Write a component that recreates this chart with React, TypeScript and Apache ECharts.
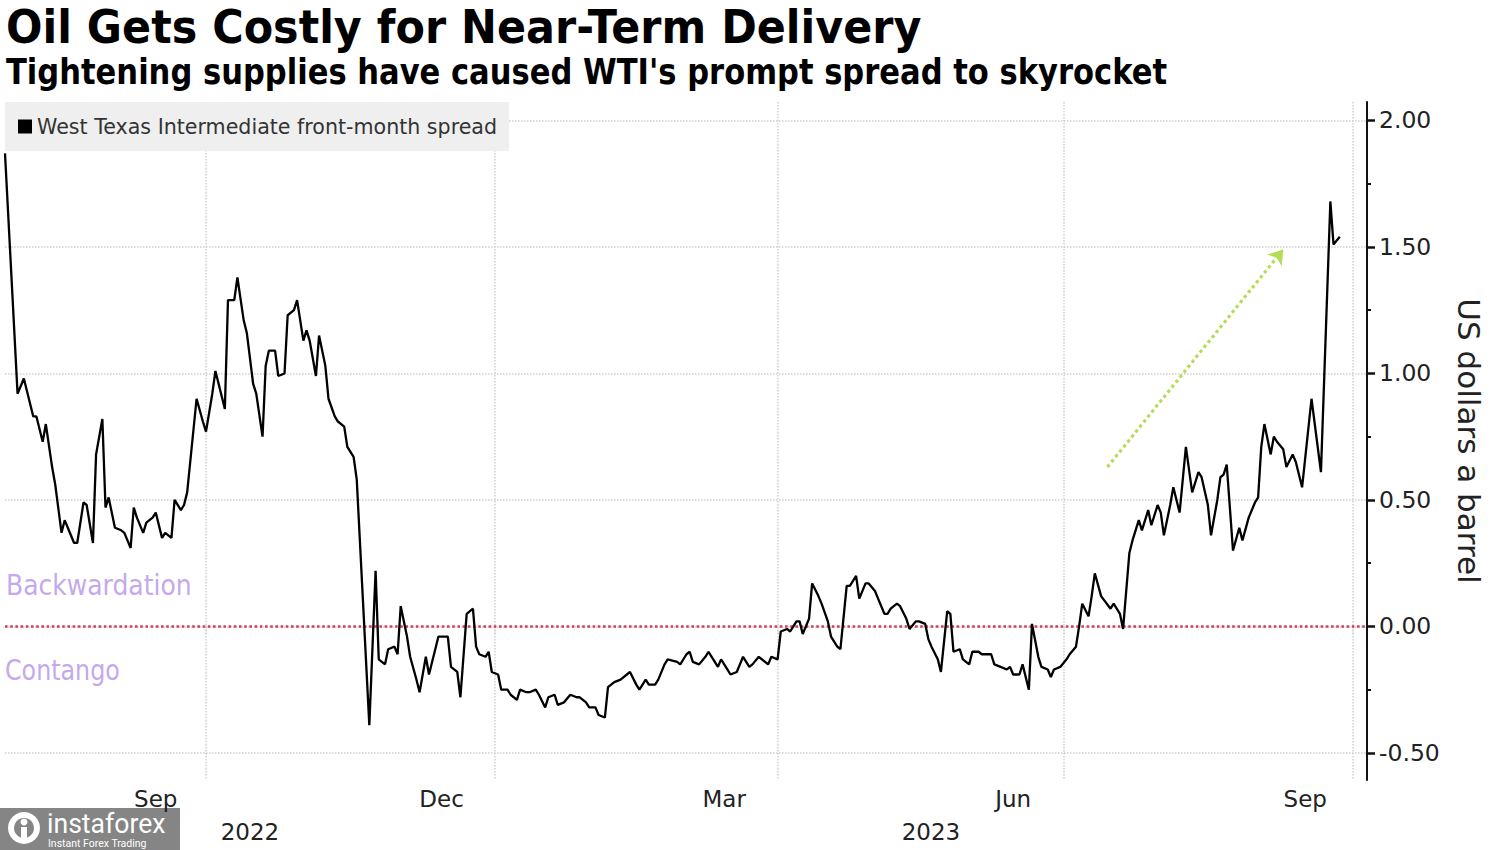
import React, { useEffect, useRef } from "react";
import * as echarts from "echarts";

const SERIES_NAME = "West Texas Intermediate front-month spread";
const TITLE = "Oil Gets Costly for Near-Term Delivery";
const SUBTITLE = "Tightening supplies have caused WTI's prompt spread to skyrocket";

const dates: string[] = [
  // Jul/Aug 2022
  "2022-07-29","2022-08-02","2022-08-04","2022-08-07","2022-08-08","2022-08-10","2022-08-11","2022-08-13","2022-08-14","2022-08-16","2022-08-17","2022-08-18","2022-08-20","2022-08-21","2022-08-23","2022-08-24","2022-08-26","2022-08-27","2022-08-29","2022-08-30","2022-08-31",
  // Sep 2022
  "2022-09-02","2022-09-04","2022-09-05","2022-09-07","2022-09-08","2022-09-09","2022-09-11","2022-09-12","2022-09-14","2022-09-15","2022-09-17","2022-09-18","2022-09-20","2022-09-21","2022-09-23","2022-09-24","2022-09-25","2022-09-28","2022-09-30",
  // Oct 2022
  "2022-10-01","2022-10-03","2022-10-04","2022-10-07","2022-10-08","2022-10-10","2022-10-11","2022-10-13","2022-10-14","2022-10-16","2022-10-17","2022-10-19","2022-10-20","2022-10-21","2022-10-23","2022-10-24","2022-10-26","2022-10-27","2022-10-29","2022-10-30",
  // Nov 2022
  "2022-11-01","2022-11-02","2022-11-03","2022-11-05","2022-11-06","2022-11-08","2022-11-09","2022-11-11","2022-11-12","2022-11-14","2022-11-15","2022-11-17","2022-11-18","2022-11-22","2022-11-24","2022-11-25","2022-11-27","2022-11-28","2022-11-30",
  // Dec 2022
  "2022-12-01","2022-12-02","2022-12-04","2022-12-05","2022-12-07","2022-12-08","2022-12-10","2022-12-11","2022-12-13","2022-12-14","2022-12-17","2022-12-18","2022-12-20","2022-12-21","2022-12-23","2022-12-25","2022-12-26","2022-12-27","2022-12-29","2022-12-30","2022-12-31",
  // Jan 2023
  "2023-01-02","2023-01-03","2023-01-05","2023-01-06","2023-01-08","2023-01-09","2023-01-11","2023-01-12","2023-01-14","2023-01-15","2023-01-17","2023-01-18","2023-01-20","2023-01-21","2023-01-23","2023-01-25","2023-01-27","2023-01-28","2023-01-30","2023-01-31",
  // Feb 2023
  "2023-02-02","2023-02-03","2023-02-05","2023-02-06","2023-02-08","2023-02-10","2023-02-12","2023-02-13","2023-02-15","2023-02-16","2023-02-18","2023-02-19","2023-02-21","2023-02-22","2023-02-24","2023-02-25","2023-02-28",
  // Mar 2023
  "2023-03-01","2023-03-03","2023-03-04","2023-03-05","2023-03-07","2023-03-09","2023-03-10","2023-03-11","2023-03-13","2023-03-14","2023-03-16","2023-03-17","2023-03-19","2023-03-20","2023-03-21","2023-03-23","2023-03-24","2023-03-26","2023-03-28","2023-03-29","2023-03-30",
  // Apr 2023
  "2023-04-01","2023-04-02","2023-04-04","2023-04-05","2023-04-07","2023-04-08","2023-04-09","2023-04-11","2023-04-12","2023-04-14","2023-04-15","2023-04-17","2023-04-18","2023-04-20","2023-04-21","2023-04-23","2023-04-24","2023-04-26","2023-04-27","2023-04-29","2023-04-30",
  // May 2023
  "2023-05-02","2023-05-03","2023-05-05","2023-05-06","2023-05-07","2023-05-09","2023-05-10","2023-05-12","2023-05-13","2023-05-15","2023-05-16","2023-05-18","2023-05-19","2023-05-20","2023-05-22","2023-05-23","2023-05-25","2023-05-26","2023-05-27","2023-05-29","2023-05-30",
  // Jun 2023
  "2023-06-01","2023-06-02","2023-06-04","2023-06-05","2023-06-08","2023-06-09","2023-06-11","2023-06-13","2023-06-14","2023-06-15","2023-06-17","2023-06-18","2023-06-20","2023-06-21","2023-06-23","2023-06-24","2023-06-26","2023-06-27","2023-06-28","2023-06-30",
  // Jul 2023
  "2023-07-02","2023-07-03","2023-07-05","2023-07-06","2023-07-07","2023-07-09","2023-07-10","2023-07-11","2023-07-13","2023-07-16","2023-07-17","2023-07-19","2023-07-20","2023-07-22","2023-07-23","2023-07-25","2023-07-26","2023-07-28","2023-07-29","2023-07-31",
  // Aug 2023
  "2023-08-01","2023-08-02","2023-08-04","2023-08-05","2023-08-07","2023-08-09","2023-08-11","2023-08-13","2023-08-14","2023-08-16","2023-08-17","2023-08-19","2023-08-20","2023-08-21","2023-08-22","2023-08-24","2023-08-26","2023-08-27","2023-08-29","2023-08-31",
  // Sep 2023
  "2023-09-01","2023-09-02","2023-09-03","2023-09-05","2023-09-06","2023-09-07","2023-09-09","2023-09-10","2023-09-12","2023-09-13","2023-09-15","2023-09-18","2023-09-21","2023-09-24","2023-09-25","2023-09-27",
];

const spread: number[] = [
  // Jul/Aug 2022
  1.87,0.92,0.98,0.83,0.83,0.73,0.80,0.63,0.56,0.37,0.42,0.39,0.33,0.33,0.49,0.48,0.33,0.68,0.82,0.47,0.51,
  // Sep 2022
  0.39,0.38,0.37,0.31,0.47,0.43,0.37,0.41,0.43,0.45,0.35,0.37,0.35,0.50,0.46,0.48,0.53,0.90,0.81,
  // Oct 2022
  0.77,0.92,1.01,0.86,1.29,1.29,1.38,1.21,1.16,0.96,0.92,0.75,1.03,1.09,1.09,0.99,1.00,1.23,1.25,1.29,
  // Nov 2022
  1.13,1.17,1.13,0.99,1.15,1.03,0.90,0.83,0.81,0.79,0.71,0.67,0.58,-0.39,0.22,-0.13,-0.15,-0.09,-0.08,
  // Dec 2022
  -0.11,0.08,-0.04,-0.12,-0.21,-0.26,-0.12,-0.19,-0.09,-0.04,-0.04,-0.16,-0.18,-0.28,0.05,0.07,-0.08,-0.11,-0.12,-0.10,-0.18,
  // Jan 2023
  -0.19,-0.25,-0.25,-0.27,-0.29,-0.25,-0.26,-0.26,-0.25,-0.27,-0.32,-0.28,-0.27,-0.31,-0.30,-0.27,-0.28,-0.28,-0.30,-0.32,
  // Feb 2023
  -0.32,-0.35,-0.36,-0.24,-0.22,-0.21,-0.19,-0.18,-0.23,-0.25,-0.21,-0.23,-0.23,-0.21,-0.15,-0.13,-0.14,
  // Mar 2023
  -0.15,-0.11,-0.10,-0.14,-0.15,-0.12,-0.10,-0.12,-0.16,-0.13,-0.17,-0.19,-0.18,-0.15,-0.12,-0.16,-0.15,-0.12,-0.14,-0.15,-0.12,
  // Apr 2023
  -0.13,-0.02,-0.01,-0.02,0.02,0.02,-0.03,0.03,0.17,0.12,0.09,0.02,-0.04,-0.08,-0.09,0.16,0.16,0.20,0.11,0.17,0.17,
  // May 2023
  0.14,0.11,0.05,0.05,0.07,0.09,0.08,0.03,-0.01,0.02,0.02,0.01,-0.05,-0.08,-0.13,-0.18,0.06,0.05,-0.10,-0.09,-0.13,
  // Jun 2023
  -0.15,-0.10,-0.10,-0.11,-0.11,-0.15,-0.16,-0.17,-0.16,-0.19,-0.19,-0.15,-0.25,0.01,-0.12,-0.16,-0.17,-0.20,-0.17,-0.16,
  // Jul 2023
  -0.13,-0.11,-0.08,0.00,0.09,0.04,0.12,0.21,0.12,0.07,0.09,0.05,-0.01,0.29,0.34,0.42,0.38,0.46,0.40,0.48,
  // Aug 2023
  0.45,0.36,0.48,0.55,0.45,0.71,0.53,0.61,0.59,0.48,0.36,0.50,0.59,0.60,0.64,0.30,0.39,0.34,0.43,0.49,
  // Sep 2023
  0.51,0.71,0.80,0.68,0.75,0.73,0.70,0.63,0.68,0.65,0.55,0.90,0.61,1.68,1.51,1.54,
];

// axis layout values
const X_MIN = "2022-07-29";
const X_MAX = "2023-10-05T16:00";
const Y_MIN = -0.607;
const Y_MAX = 2.073;
const yMajorTicks = [-0.5, 0, 0.5, 1, 1.5, 2];
const yMinorTicks = [-0.25, 0.25, 0.75, 1.25, 1.75];
const quarterStarts = ["2022-10-01", "2023-01-01", "2023-04-01", "2023-07-01", "2023-10-01"];
const monthLabelDates = ["2022-09-15", "2022-12-15", "2023-03-15", "2023-06-15", "2023-09-16"];
const yearStarts = ["2023-01-01"];
const monthNames = ["Jan","Feb","Mar","Apr","May","Jun","Jul","Aug","Sep","Oct","Nov","Dec"];

// trend arrow annotation (date, value)
const arrowFrom: [string, number] = ["2023-07-15", 0.63];
const arrowTo: [string, number] = ["2023-09-09", 1.49];

function ts(s: string): number {
  const [datePart, timePart] = s.split("T");
  const [y, m, d] = datePart.split("-").map(Number);
  let h = 0;
  if (timePart) h = Number(timePart.split(":")[0]);
  return new Date(y, m - 1, d, h).getTime();
}

const FONT = "'DejaVu Sans', Verdana, sans-serif";

export default function App() {
  const ref = useRef<HTMLDivElement>(null);

  useEffect(() => {
    if (!ref.current) return;
    const chart = echarts.init(ref.current, undefined, { renderer: "svg" });

    const xMin = ts(X_MIN);
    const xMax = ts(X_MAX);
    const y2023 = ts(yearStarts[0]);
    const yearLabelValues = [(xMin + y2023) / 2, (y2023 + xMax) / 2];

    const option: any = {
      animation: false,
      backgroundColor: "#ffffff",
      textStyle: { fontFamily: FONT },
      grid: { left: 5, right: 133, top: 102, bottom: 70, containLabel: false },
      legend: {
        data: [{ name: SERIES_NAME, itemStyle: { color: "#000" } }],
        left: 5,
        top: 102,
        icon: "rect",
        itemWidth: 14,
        itemHeight: 14,
        backgroundColor: "#efefef",
        padding: [14, 12, 14, 13],
        textStyle: { fontSize: 20.6, color: "#333", fontFamily: FONT },
        selectedMode: false,
      },
      xAxis: [
        {
          type: "value",
          min: xMin,
          max: xMax,
          position: "bottom",
          axisLine: { show: false },
          axisTick: {
            show: true,
            customValues: quarterStarts.map(ts),
            length: 8,
            lineStyle: { color: "#cfcfcf", type: "dotted", width: 1.5 },
          },
          axisLabel: {
            customValues: monthLabelDates.map(ts),
            formatter: (v: number) => monthNames[new Date(v).getMonth()],
            fontSize: 23,
            color: "#222",
            margin: 7,
          },
          splitLine: {
            show: true,
            lineStyle: { color: "#cfcfcf", type: "dotted", width: 1.5 },
          },
        },
        {
          type: "value",
          min: xMin,
          max: xMax,
          position: "bottom",
          offset: 32,
          axisLine: { show: false },
          axisTick: { show: false },
          splitLine: { show: false },
          axisLabel: {
            customValues: yearLabelValues,
            formatter: (v: number) => String(new Date(v).getFullYear()),
            fontSize: 23,
            color: "#222",
            margin: 8,
          },
        },
      ],
      yAxis: [
        {
          type: "value",
          position: "right",
          min: Y_MIN,
          max: Y_MAX,
          name: "US dollars a barrel",
          nameLocation: "middle",
          nameRotate: -90,
          nameGap: 86,
          nameTextStyle: { fontSize: 31, color: "#222", fontFamily: FONT },
          axisLine: { show: true, lineStyle: { color: "#111", width: 2 } },
          axisTick: {
            show: true,
            customValues: yMajorTicks,
            length: 8,
            lineStyle: { color: "#111", width: 2.5 },
          },
          axisLabel: {
            customValues: yMajorTicks,
            formatter: (v: number) => v.toFixed(2),
            fontSize: 23.5,
            color: "#222",
            margin: 12,
          },
          splitLine: {
            show: true,
            lineStyle: { color: "#cfcfcf", type: "dotted", width: 1.5 },
          },
        },
        {
          type: "value",
          position: "right",
          min: Y_MIN,
          max: Y_MAX,
          axisLine: { show: false },
          axisTick: {
            show: true,
            customValues: yMinorTicks,
            length: 4,
            lineStyle: { color: "#111", width: 2 },
          },
          axisLabel: { show: false },
          splitLine: { show: false },
        },
      ],
      series: [
        {
          name: SERIES_NAME,
          type: "line",
          xAxisIndex: 0,
          yAxisIndex: 0,
          data: dates.map((d, i) => [ts(d), spread[i]]),
          showSymbol: false,
          symbol: "none",
          lineStyle: { color: "#000", width: 2.3 },
          itemStyle: { color: "#000" },
          z: 5,
          markLine: {
            silent: true,
            symbol: ["none", "none"],
            label: { show: false },
            data: [
              {
                yAxis: 0,
                lineStyle: { color: "#d23e5e", type: "dotted", width: 2.6 },
              },
              [
                {
                  coord: [ts(arrowFrom[0]), arrowFrom[1]],
                  symbol: "none",
                  lineStyle: { color: "#b3dd55", type: "dotted", width: 3.2 },
                },
                {
                  coord: [ts(arrowTo[0]), arrowTo[1]],
                  symbol: "arrow",
                  symbolSize: 14,
                },
              ],
            ],
          },
        },
      ],
      graphic: [
        {
          type: "text",
          x: 6,
          y: 27,
          scaleX: 0.913,
          style: {
            text: TITLE,
            font: `bold 47px ${FONT}`,
            fill: "#000",
            verticalAlign: "middle",
          },
        },
        {
          type: "text",
          x: 6,
          y: 72,
          scaleX: 0.874,
          style: {
            text: SUBTITLE,
            font: `bold 35px ${FONT}`,
            fill: "#000",
            verticalAlign: "middle",
          },
        },
        {
          type: "text",
          x: 6,
          y: 585,
          scaleX: 0.864,
          style: {
            text: "Backwardation",
            font: `29px ${FONT}`,
            fill: "#c5a9ea",
            verticalAlign: "middle",
          },
        },
        {
          type: "text",
          x: 5,
          y: 670,
          scaleX: 0.82,
          style: {
            text: "Contango",
            font: `29px ${FONT}`,
            fill: "#c5a9ea",
            verticalAlign: "middle",
          },
        },
        {
          type: "group",
          left: 0,
          bottom: 0,
          children: [
            {
              type: "rect",
              shape: { x: 0, y: 0, width: 180, height: 42 },
              style: { fill: "#858585" },
            },
            {
              type: "ring",
              shape: { cx: 24, cy: 20, r: 16, r0: 10 },
              style: { fill: "#ffffff" },
            },
            {
              type: "circle",
              shape: { cx: 24, cy: 14, r: 3.5 },
              style: { fill: "#ffffff" },
            },
            {
              type: "rect",
              shape: { x: 21, y: 19, width: 6, height: 13 },
              style: { fill: "#ffffff" },
            },
            {
              type: "text",
              x: 47,
              y: 16,
              scaleX: 0.95,
              style: {
                text: "instaforex",
                font: `28px Roboto, ${FONT}`,
                fill: "#ffffff",
                verticalAlign: "middle",
              },
            },
            {
              type: "text",
              x: 48,
              y: 35,
              style: {
                text: "Instant Forex Trading",
                font: `10.5px Roboto, ${FONT}`,
                fill: "#ffffff",
                verticalAlign: "middle",
              },
            },
          ],
        },
      ],
    };

    chart.setOption(option);
    return () => {
      chart.dispose();
    };
  }, []);

  return (
    <div
      ref={ref}
      style={{ position: "fixed", left: 0, top: 0, width: 1500, height: 850, background: "#fff" }}
    />
  );
}
